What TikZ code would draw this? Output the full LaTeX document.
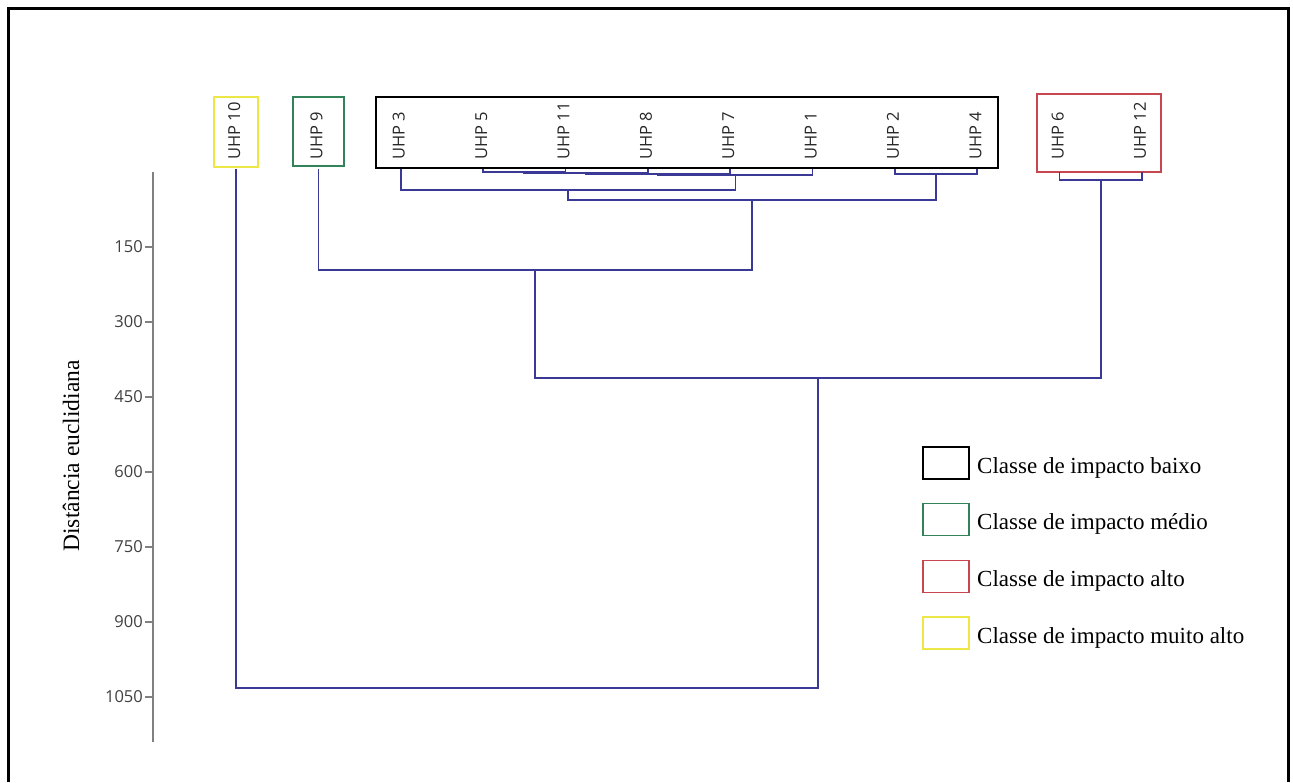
\documentclass[tikz,border=0pt]{standalone}
\usepackage{fontspec}
\setmainfont{Liberation Serif}
\newfontfamily\labelfont{Open Sans}
\definecolor{linkblue}{RGB}{58,58,150}
\definecolor{axisgray}{RGB}{128,128,128}
\definecolor{boxyellow}{RGB}{236,230,70}
\definecolor{boxgreen}{RGB}{50,130,90}
\definecolor{boxred}{RGB}{200,70,80}
\begin{document}
\begin{tikzpicture}[x=1pt,y=-1pt,
  link/.style={draw=linkblue,line width=1.6pt},
  axisline/.style={draw=axisgray,line width=2.4pt},
  classbox/.style={line width=1.5pt},
  leaflabel/.style={rotate=90,anchor=base west,inner sep=0pt,text=black!85,
    font=\labelfont\fontsize{16.5}{18}\selectfont},
  ticklabel/.style={anchor=east,inner sep=0pt,text=black!75,
    font=\labelfont\fontsize{16.5}{18}\selectfont},
  legendtext/.style={anchor=base west,inner sep=0pt,font=\fontsize{23}{26}\selectfont}]
\useasboundingbox (0,0) rectangle (1293,782);
% outer frame (open at the bottom)
\draw[line width=3pt] (8,782) -- (8,8) -- (1288,8) -- (1288,782);

% leaves and their labels
\foreach \nm [count=\i from 0] in {10,9,3,5,11,8,7,1,2,4,6,12} {
  \coordinate (l\nm) at ({236+82.36*\i},169);
  \node[leaflabel] (t\nm) at ({240+82.36*\i},160) {UHP \nm};
}
\coordinate (l6) at (1059.6,172);
\coordinate (l12) at (1141.96,172);

% class boxes around the leaf labels
\draw[classbox,draw=boxyellow] (214,97) rectangle (258,167);
\draw[classbox,draw=boxgreen] (293,97) rectangle (344,166);
\draw[classbox,draw=black] (376,97) rectangle (998,168);
\draw[classbox,draw=boxred] (1037,94) rectangle (1161,172);

% merge points
\coordinate (m511) at (524.26,172);
\coordinate (m8) at (586.03,173);
\coordinate (m7) at (658.1,174);
\coordinate (m1) at (735.31,175);
\coordinate (m3) at (568.0,190);
\coordinate (m24) at (936.06,174);
\coordinate (mA) at (752.03,200);
\coordinate (m9) at (535.2,270);
\coordinate (m612) at (1100.78,180);
\coordinate (mB) at (817.99,378);
\coordinate (m10) at (527,688);

% dendrogram links
\draw[link] (l5) |- (m511) -| (l11);
\draw[link] (m511) |- (m8) -| (l8);
\draw[link] (m8) |- (m7) -| (l7);
\draw[link] (m7) |- (m1) -| (l1);
\draw[link] (l3) |- (m3) -| (m1);
\draw[link] (l2) |- (m24) -| (l4);
\draw[link] (m3) |- (mA) -| (m24);
\draw[link] (l9) |- (m9) -| (mA);
\draw[link] (l6) |- (m612) -| (l12);
\draw[link] (m9) |- (mB) -| (m612);
\draw[link] (l10) |- (m10) -| (mB);

% distance axis
\coordinate (ax0) at (153,172);
\coordinate (ax1) at (153,742);
\draw[axisline] (ax0) -- (ax1);
\foreach \v in {150,300,...,1050} {
  \coordinate (tk\v) at (153,{172+\v/2});
  \draw[axisline] (tk\v) -- ++(-8,0);
  \node[ticklabel] (tl\v) at (143,{172+\v/2}) {\v};
}
\node[rotate=90,anchor=base,inner sep=0pt,font=\fontsize{23.5}{26}\selectfont]
  (ylab) at (79,456) {Distância euclidiana};

% legend
\foreach \c/\txt [count=\k from 0] in {black/baixo,boxgreen/médio,boxred/alto,boxyellow/muito alto} {
  \draw[classbox,draw=\c] (923,{447+56.7*\k}) rectangle (969,{479+56.7*\k});
  \node[legendtext] (lg\k) at (977,{473+56.7*\k}) {Classe de impacto \txt};
}
\end{tikzpicture}
\end{document}
